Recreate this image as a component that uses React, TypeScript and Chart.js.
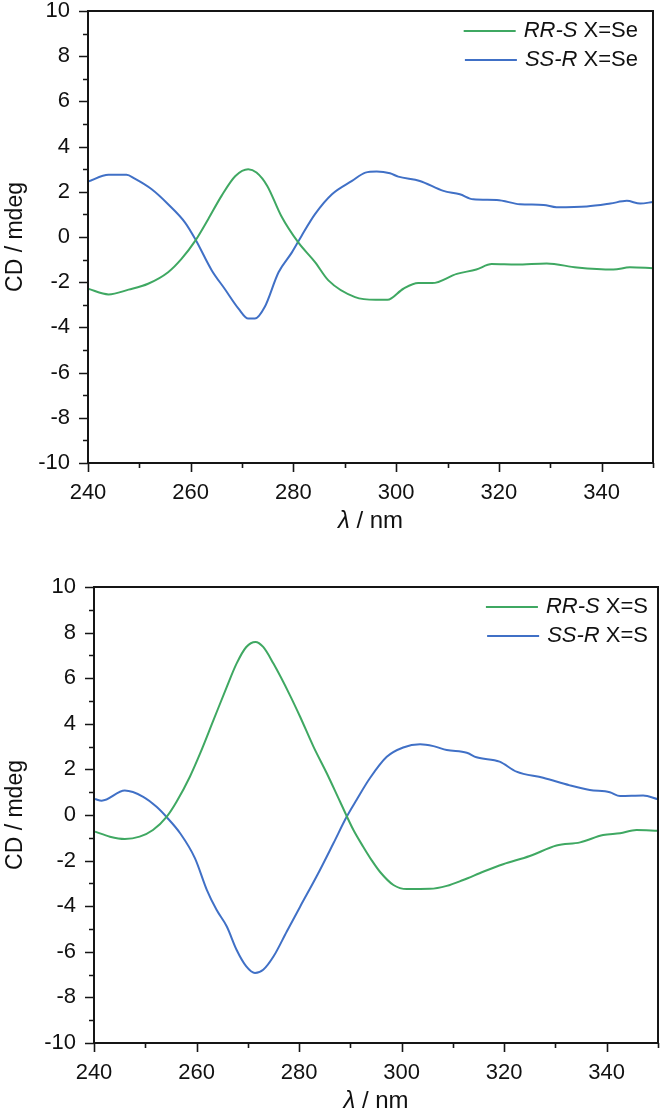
import React, { useEffect, useRef } from "react";
import { Chart, registerables } from "chart.js";

Chart.register(...registerables);

const FONT = '"Liberation Sans", Arial, Helvetica, sans-serif';
const GREEN = "#3fa862";
const BLUE = "#4070c6";

// Axis ticks
const xMajorTicks = [240, 260, 280, 300, 320, 340];
const xMinorTicks = [250, 270, 290, 310, 330, 350];
const yMajorTicks = [-10, -8, -6, -4, -2, 0, 2, 4, 6, 8, 10];
const yMinorTicks = [-9, -7, -5, -3, -1, 1, 3, 5, 7, 9];

// Top panel: X = Se
const seRRSWavelength = [240, 244, 247.9, 251.7, 255.6, 258.2, 260.9, 263.4, 266, 268.7, 271.2, 272.8, 274.9, 277.6, 280.9, 284.2, 286.8, 292, 296, 298.3, 301.4, 304.3, 307, 311.8, 315.6, 318.6, 323.4, 329.3, 335.2, 342.3, 345.5, 350];
const seRRSCd = [-2.29, -2.54, -2.33, -2.07, -1.56, -0.97, -0.16, 0.79, 1.82, 2.7, 3.0, 2.85, 2.26, 0.94, -0.23, -1.11, -1.92, -2.66, -2.78, -2.78, -2.29, -2.04, -2.04, -1.63, -1.44, -1.2, -1.22, -1.17, -1.35, -1.44, -1.34, -1.38];
const seSSRWavelength = [240, 244, 247.5, 249.1, 252.4, 255.6, 258.9, 260.9, 264.1, 266.6, 269.3, 271.2, 272.5, 274.4, 277.1, 279.7, 281.6, 284.2, 287.5, 291.4, 294, 296.2, 298.8, 300.4, 304.6, 309.2, 312.4, 315, 319.6, 324.1, 328.7, 331.2, 337.1, 341.7, 344.9, 347.5, 350];
const seSSRCd = [2.45, 2.75, 2.75, 2.58, 2.11, 1.45, 0.64, -0.1, -1.48, -2.29, -3.17, -3.61, -3.61, -3.1, -1.56, -0.68, 0.06, 1.01, 1.89, 2.48, 2.85, 2.9, 2.82, 2.67, 2.48, 2.04, 1.89, 1.67, 1.64, 1.45, 1.42, 1.32, 1.35, 1.48, 1.6, 1.48, 1.55];

// Bottom panel: X = S
const sRRSWavelength = [240.2, 243.1, 246, 248.9, 251.5, 254.2, 256.1, 258.7, 260.7, 263.3, 265.9, 267.8, 269.7, 271.5, 273, 275, 278.2, 280.2, 282.8, 285.4, 288, 290.6, 292.5, 294.2, 295.8, 298.4, 301, 305.5, 308.8, 312, 316, 319.8, 325, 330.2, 334.8, 339.3, 342.6, 345.8, 350];
const sRRSCd = [-0.73, -0.95, -1.05, -0.95, -0.66, -0.07, 0.58, 1.68, 2.7, 4.16, 5.62, 6.64, 7.37, 7.59, 7.37, 6.64, 5.26, 4.31, 3.0, 1.83, 0.58, -0.66, -1.39, -2.0, -2.5, -3.07, -3.25, -3.24, -3.11, -2.85, -2.48, -2.16, -1.8, -1.34, -1.2, -0.88, -0.8, -0.66, -0.69];
const sSSRWavelength = [240.2, 241.5, 246, 249.6, 252.2, 254.2, 256.8, 259.7, 262, 263.9, 265.9, 267.8, 269.7, 271.4, 273, 275, 277.6, 280.2, 283.4, 286.7, 289.3, 291.2, 293.8, 297.1, 300.3, 303.6, 306.2, 308.8, 312.7, 314.6, 319.1, 322.4, 327.6, 332.8, 336.7, 340.6, 342.6, 347.1, 350];
const sSSRCd = [0.7, 0.63, 1.07, 0.8, 0.36, -0.1, -0.8, -1.9, -3.28, -4.16, -4.89, -5.91, -6.64, -6.93, -6.79, -6.21, -5.11, -4.02, -2.7, -1.24, -0.07, 0.66, 1.61, 2.55, 2.96, 3.1, 3.02, 2.85, 2.73, 2.53, 2.34, 1.9, 1.63, 1.3, 1.1, 1.0, 0.83, 0.85, 0.69];

// Legend text
const seLegendItalic = ["RR-S", "SS-R"];
const seLegendPlain = [" X=Se", " X=Se"];
const sLegendItalic = ["RR-S", "SS-R"];
const sLegendPlain = [" X=S", " X=S"];

const xTitleItalic = "\u03bb";
const xTitlePlain = " / nm";
const yTitle = "CD / mdeg";

type Spec = {
  height: number;
  left: number;
  right: number;
  top: number;
  bottom: number;
  series: { wl: number[]; cd: number[]; color: string }[];
  legendItalic: string[];
  legendPlain: string[];
  legendRightGap: number;
};

const framePlugin = {
  id: "frame",
  afterDraw(chart: any, _args: any, opts: any) {
    const { ctx, chartArea: a } = chart;
    const xs = chart.scales.x;
    const ys = chart.scales.y;
    ctx.save();
    ctx.strokeStyle = "#151515";
    ctx.lineWidth = 2;
    ctx.strokeRect(a.left, a.top, a.right - a.left, a.bottom - a.top);
    ctx.lineWidth = 1.6;
    ctx.beginPath();
    for (const v of xMajorTicks) {
      const p = Math.round(xs.getPixelForValue(v)) + 0.5;
      ctx.moveTo(p, a.bottom);
      ctx.lineTo(p, a.bottom + 9);
    }
    for (const v of xMinorTicks) {
      const p = Math.round(xs.getPixelForValue(v)) + 0.5;
      ctx.moveTo(p, a.bottom);
      ctx.lineTo(p, a.bottom + 5);
    }
    for (const v of yMajorTicks) {
      const p = Math.round(ys.getPixelForValue(v)) + 0.5;
      ctx.moveTo(a.left, p);
      ctx.lineTo(a.left - 9, p);
    }
    for (const v of yMinorTicks) {
      const p = Math.round(ys.getPixelForValue(v)) + 0.5;
      ctx.moveTo(a.left, p);
      ctx.lineTo(a.left - 5, p);
    }
    ctx.stroke();

    ctx.fillStyle = "#111";
    ctx.textBaseline = "middle";
    // x title
    const italicFont = `italic 24px ${FONT}`;
    const plainFont = `24px ${FONT}`;
    ctx.font = italicFont;
    const w1 = ctx.measureText(xTitleItalic).width;
    ctx.font = plainFont;
    const w2 = ctx.measureText(xTitlePlain).width;
    const cx = (a.left + a.right) / 2;
    const ty = a.bottom + 58;
    const sx = cx - (w1 + w2) / 2;
    ctx.textAlign = "left";
    ctx.font = italicFont;
    ctx.fillText(xTitleItalic, sx, ty);
    ctx.font = plainFont;
    ctx.fillText(xTitlePlain, sx + w1, ty);

    // y title
    ctx.save();
    ctx.translate(16, (a.top + a.bottom) / 2);
    ctx.rotate(-Math.PI / 2);
    ctx.textAlign = "center";
    ctx.font = `23px ${FONT}`;
    ctx.fillText(yTitle, 0, 0);
    ctx.restore();

    // legend
    const lf = 22;
    for (let i = 0; i < opts.italic.length; i++) {
      const y = a.top + 20 + i * 29;
      ctx.font = `italic ${lf}px ${FONT}`;
      const iw = ctx.measureText(opts.italic[i]).width;
      ctx.font = `${lf}px ${FONT}`;
      const pw = ctx.measureText(opts.plain[i]).width;
      const end = a.right - opts.rightGap;
      const start = end - iw - pw;
      ctx.textAlign = "left";
      ctx.font = `italic ${lf}px ${FONT}`;
      ctx.fillText(opts.italic[i], start, y);
      ctx.font = `${lf}px ${FONT}`;
      ctx.fillText(opts.plain[i], start + iw, y);
      ctx.strokeStyle = opts.colors[i];
      ctx.lineWidth = 2;
      ctx.beginPath();
      ctx.moveTo(start - 60, y);
      ctx.lineTo(start - 8, y);
      ctx.stroke();
    }
    ctx.restore();
  },
};

function buildChart(canvas: HTMLCanvasElement, spec: Spec) {
  return new Chart(canvas, {
    type: "line",
    data: {
      datasets: spec.series.map((s) => ({
        data: s.wl.map((w, i) => ({ x: w, y: s.cd[i] })),
        borderColor: s.color,
        borderWidth: 2,
        pointRadius: 0,
        fill: false,
        cubicInterpolationMode: "monotone" as const,
      })),
    },
    options: {
      responsive: false,
      animation: false,
      devicePixelRatio: 1,
      layout: { padding: { left: 0, top: spec.top, right: 662 - spec.right, bottom: 0 } },
      plugins: {
        legend: { display: false },
        tooltip: { enabled: false },
        frame: {
          italic: spec.legendItalic,
          plain: spec.legendPlain,
          colors: spec.series.map((s) => s.color),
          rightGap: spec.legendRightGap,
        },
      } as any,
      scales: {
        x: {
          type: "linear",
          min: 240,
          max: 350,
          grid: { display: false },
          border: { display: false },
          afterFit: (s: any) => {
            s.height = spec.height - spec.bottom;
            s.paddingLeft = 0;
            s.paddingRight = 0;
          },
          afterBuildTicks: (s: any) => {
            s.ticks = xMajorTicks.map((v) => ({ value: v }));
          },
          ticks: {
            padding: 9,
            color: "#111",
            maxRotation: 0,
            font: { family: FONT, size: 22 },
          },
        },
        y: {
          type: "linear",
          min: -10,
          max: 10,
          grid: { display: false },
          border: { display: false },
          afterFit: (s: any) => {
            s.width = spec.left;
            s.paddingTop = 0;
            s.paddingBottom = 0;
          },
          afterBuildTicks: (s: any) => {
            s.ticks = yMajorTicks.map((v) => ({ value: v }));
          },
          ticks: {
            padding: 10,
            color: "#111",
            font: { family: FONT, size: 22 },
          },
        },
      },
    },
    plugins: [framePlugin],
  });
}

const topSpec: Spec = {
  height: 550,
  left: 88,
  right: 653,
  top: 11,
  bottom: 463,
  series: [
    { wl: seRRSWavelength, cd: seRRSCd, color: GREEN },
    { wl: seSSRWavelength, cd: seSSRCd, color: BLUE },
  ],
  legendItalic: seLegendItalic,
  legendPlain: seLegendPlain,
  legendRightGap: 15,
};

const bottomSpec: Spec = {
  height: 564,
  left: 94,
  right: 658,
  top: 37,
  bottom: 493,
  series: [
    { wl: sRRSWavelength, cd: sRRSCd, color: GREEN },
    { wl: sSSRWavelength, cd: sSSRCd, color: BLUE },
  ],
  legendItalic: sLegendItalic,
  legendPlain: sLegendPlain,
  legendRightGap: 10,
};

export default function App() {
  const topRef = useRef<HTMLCanvasElement>(null);
  const bottomRef = useRef<HTMLCanvasElement>(null);

  useEffect(() => {
    const c1 = buildChart(topRef.current!, topSpec);
    const c2 = buildChart(bottomRef.current!, bottomSpec);
    return () => {
      c1.destroy();
      c2.destroy();
    };
  }, []);

  return (
    <div style={{ position: "absolute", left: 0, top: 0, width: 662, height: 1114, background: "#fff" }}>
      <canvas ref={topRef} width={662} height={550} style={{ position: "absolute", left: 0, top: 0, width: 662, height: 550 }} />
      <canvas ref={bottomRef} width={662} height={564} style={{ position: "absolute", left: 0, top: 550, width: 662, height: 564 }} />
    </div>
  );
}
